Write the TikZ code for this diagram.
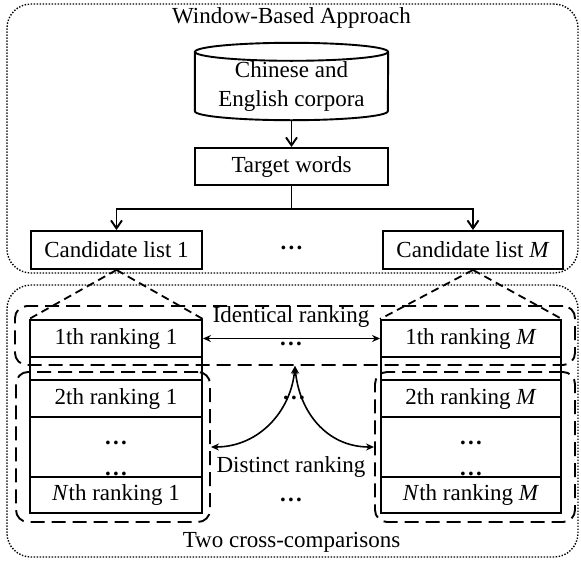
\documentclass[tikz,border=0pt]{standalone}
\usepackage{fontspec}
\setmainfont{Liberation Serif}
\usetikzlibrary{arrows.meta, positioning, calc}
\newcommand{\rankdots}{\textbf{.\kern0.1em.\kern0.1em.}}
\tikzset{
  solidbox/.style={draw, line width=1.9pt, inner sep=0pt},
  rowbox/.style={draw, line width=1.9pt, inner sep=0pt},
  dotframe/.style={draw, line width=1.4pt, dash pattern=on 1.4pt off 1.6pt, rounded corners=24pt, inner sep=0pt},
  dashgroup/.style={draw, line width=1.9pt, dash pattern=on 14pt off 7pt, rounded corners=12pt, inner sep=0pt},
  diag/.style={line width=1.8pt, dash pattern=on 8pt off 5pt},
  conn/.style={line width=1.6pt},
  barb/.style={line width=1.9pt, -{Straight Barb[length=8pt,width=11pt]}}
}

\begin{document}
\begin{tikzpicture}[x=1pt, y=-1pt, font=\fontsize{23pt}{29pt}\selectfont, >={Stealth[length=8pt,width=7pt]}]
  \useasboundingbox (0,0) rectangle (581,560);

  % window-based part
  \node[dotframe, minimum width=571pt, minimum height=269pt] (winframe) at (292.5,138.5) {};
  \node (wintitle) at (291.5,18) {Window-Based Approach};

  \node[minimum width=193pt, minimum height=68pt, inner sep=0pt, align=center] (corp) at (291.5,86) {Chinese and\\English corpora};
  \draw[line width=1.9pt] (corp.north west) -- ([yshift=9pt]corp.south west)
    arc[start angle=180, end angle=360, x radius=96.5pt, y radius=9pt] -- (corp.north east);
  \draw[line width=1.9pt] (corp.north) ellipse [x radius=96.5pt, y radius=9pt];

  \node[solidbox, minimum width=193pt, minimum height=37pt] (target) at (291.5,166.5) {Target words};
  \draw[barb] (corp.south) -- (target.north);

  \node[solidbox, minimum width=171pt, minimum height=38pt] (candL) at (116.5,250) {Candidate list 1};
  \node (dotsC) at (291.5,248) {\rankdots};
  \node[solidbox, minimum width=180pt, minimum height=38pt] (candR) at (473,250) {Candidate list \textit{M}};

  \coordinate (split) at ([yshift=-23pt]target.south);
  \draw[line width=1.9pt] (target.south) -- (split);
  \draw[barb] (split) -| (candL.north);
  \draw[barb] (split) -| (candR.north);

  % comparison part
  \node[dotframe, minimum width=571pt, minimum height=272pt] (cmpframe) at (292.5,421) {};
  \node (cmptitle) at (291.5,542) {Two cross-comparisons};

  \node[dashgroup, minimum width=560pt, minimum height=59pt] (ident) at (295,335.5) {};
  \node[dashgroup, minimum width=194pt, minimum height=150pt] (grpL) at (113,447) {};
  \node[dashgroup, minimum width=200pt, minimum height=150pt] (grpR) at (475,447) {};

  % left ranking stack
  \node[rowbox, minimum width=172pt, minimum height=37pt] (r1L) at (116,338.5) {1th ranking 1};
  \node[rowbox, minimum width=172pt, minimum height=23pt] (bandL) at (116,368.5) {};
  \node[rowbox, minimum width=172pt, minimum height=37pt] (r2L) at (116,398.5) {2th ranking 1};
  \node[rowbox, minimum width=172pt, minimum height=60pt] (rdL) at (116,447) {};
  \node (dL1) at (116,443) {\rankdots};
  \node (dL2) at (116,474) {\rankdots};
  \node[rowbox, minimum width=172pt, minimum height=36pt] (rNL) at (116,495) {\textit{N}th ranking 1};

  % right ranking stack
  \node[rowbox, minimum width=180pt, minimum height=37pt] (r1R) at (471,338.5) {1th ranking \textit{M}};
  \node[rowbox, minimum width=180pt, minimum height=23pt] (bandR) at (471,368.5) {};
  \node[rowbox, minimum width=180pt, minimum height=37pt] (r2R) at (471,398.5) {2th ranking \textit{M}};
  \node[rowbox, minimum width=180pt, minimum height=60pt] (rdR) at (471,447) {};
  \node (dR1) at (471,443) {\rankdots};
  \node (dR2) at (471,474) {\rankdots};
  \node[rowbox, minimum width=180pt, minimum height=36pt] (rNR) at (471,495) {\textit{N}th ranking \textit{M}};

  \draw[diag] (candL.south) -- (r1L.north west);
  \draw[diag] (candL.south) -- (r1L.north east);
  \draw[diag] (candR.south) -- (r1R.north west);
  \draw[diag] (candR.south) -- (r1R.north east);

  % identical ranking
  \node (identlbl) at (291,317) {Identical ranking};
  \draw[<->, conn] (r1L.east) -- (r1R.west);
  \node (dotsI) at (291,344) {\rankdots};

  % distinct ranking
  \node (dotsD1) at (294,398) {\rankdots};
  \draw[<->, conn] (grpL.east) .. controls +(48,0) and +(-4,45) .. (ident.south);
  \draw[<->, conn] (grpR.west) .. controls +(-48,0) and +(4,45) .. (ident.south);
  \node (distlbl) at (291,467) {Distinct ranking};
  \node (dotsD2) at (291,500) {\rankdots};
\end{tikzpicture}
\end{document}
